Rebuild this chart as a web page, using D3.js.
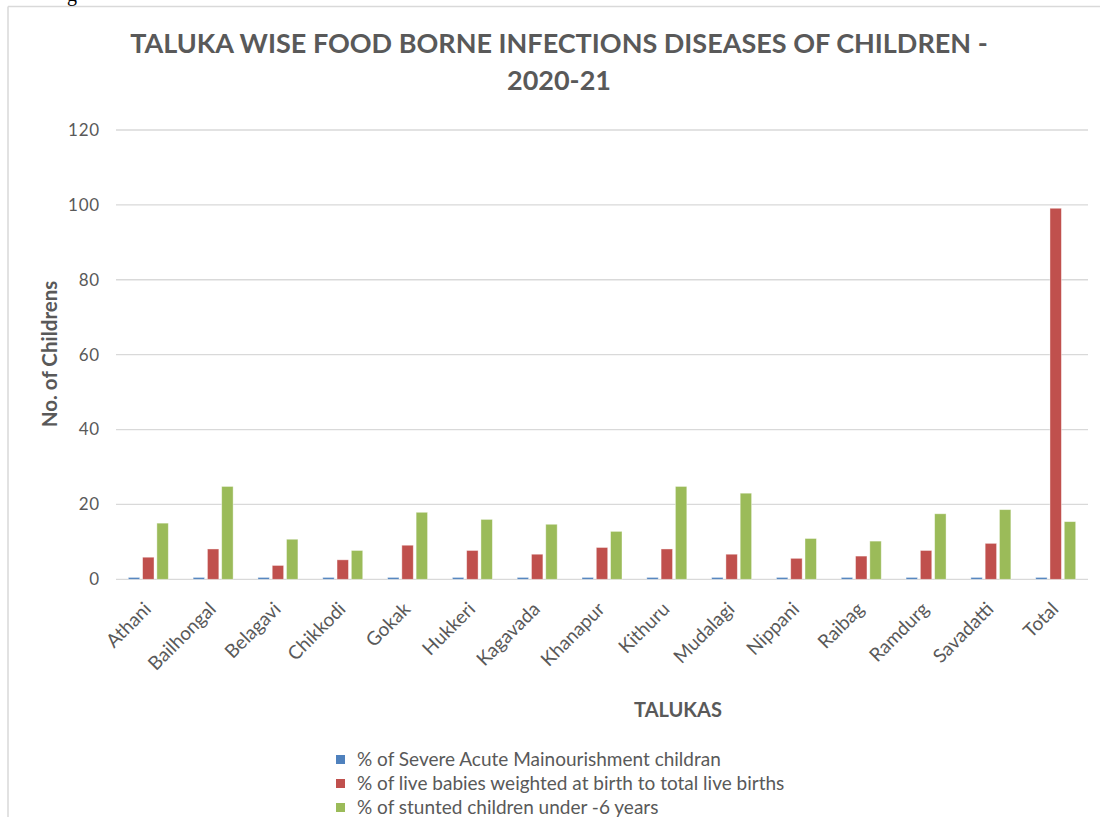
<!DOCTYPE html>
<html>
<head>
<meta charset="utf-8">
<script src="https://cdn.jsdelivr.net/npm/d3@7"></script>
<style>
  html, body { margin: 0; padding: 0; background: #fff; }
  svg { display: block; }
  text { font-family: Lato, "Open Sans", sans-serif; }
</style>
</head>
<body>
<svg id="chart" width="1100" height="817"></svg>
<script>
const categories = ["Athani","Bailhongal","Belagavi","Chikkodi","Gokak","Hukkeri","Kagavada","Khanapur","Kithuru","Mudalagi","Nippani","Raibag","Ramdurg","Savadatti","Total"];
const seriesNames = [
  "% of Severe Acute Mainourishment childran",
  "% of live babies weighted at birth to total live births",
  "% of stunted children under -6 years"
];
const severeAcute = [0.5,0.5,0.5,0.5,0.5,0.5,0.5,0.5,0.5,0.5,0.5,0.5,0.5,0.5,0.5];
const liveBabies  = [5.9,8.1,3.7,5.2,9.1,7.7,6.7,8.5,8.1,6.7,5.6,6.2,7.7,9.6,99.1];
const stunted     = [15.0,24.8,10.7,7.7,17.9,16.0,14.7,12.8,24.8,23.0,10.9,10.2,17.5,18.6,15.4];
const yTicks = [0,20,40,60,80,100,120];
const colors = ["#4f81bd","#c0504d","#9bbb59"];

const seriesValues = [severeAcute, liveBabies, stunted];
const svg = d3.select("#chart");
const W = 1100, H = 817;

// frame
svg.append("line").attr("x1",8).attr("x2",8).attr("y1",6.5).attr("y2",H).attr("stroke","#d9d9d9").attr("stroke-width",1.5);
svg.append("line").attr("x1",8).attr("x2",W).attr("y1",6.5).attr("y2",6.5).attr("stroke","#d9d9d9").attr("stroke-width",1.5);
// fragment of preceding document text, cut by the top edge as in the reference
svg.append("text").attr("x",67).attr("y",1).attr("font-size",20).attr("fill","#000").style("font-family","'Liberation Serif', serif").text("g");

const pLeft = 116, pRight = 1088, pTop = 130, pBottom = 579.3;
const x = d3.scaleBand().domain(categories).range([pLeft, pRight]).paddingInner(0.383).paddingOuter(0.19);
const xi = d3.scaleBand().domain(d3.range(3)).range([0, x.bandwidth()]).paddingInner(0.2);
const y = d3.scaleLinear().domain([0,120]).range([pBottom, pTop]);

// gridlines
svg.append("g").selectAll("line").data(yTicks).join("line")
  .attr("x1", pLeft).attr("x2", pRight)
  .attr("y1", d => y(d)).attr("y2", d => y(d))
  .attr("stroke", "#d9d9d9").attr("stroke-width", 1.3);

// y axis labels
const yAxis = d3.axisLeft(y).tickValues(yTicks).tickSize(0).tickPadding(0);
const yg = svg.append("g").attr("transform", `translate(${pLeft-16},0)`).call(yAxis);
yg.select(".domain").remove();
yg.selectAll("text").attr("font-size", 17).attr("letter-spacing", 0.8).attr("fill", "#595959").style("font-family","Lato, sans-serif");

// bars
const groups = svg.append("g").selectAll("g").data(categories).join("g")
  .attr("transform", d => `translate(${x(d)},0)`);
groups.selectAll("rect").data((d,i) => seriesValues.map((s,k) => ({k, v: s[i]}))).join("rect")
  .attr("x", d => xi(d.k))
  .attr("width", xi.bandwidth())
  .attr("y", d => y(d.v))
  .attr("height", d => y(0) - y(d.v))
  .attr("fill", d => colors[d.k])
  .attr("stroke", "#ffffff").attr("stroke-opacity", 0.5).attr("stroke-width", 0.8);

// x labels
const xAxis = d3.axisBottom(x).tickSize(0).tickPadding(0);
const xg = svg.append("g").attr("transform", `translate(0,${pBottom})`).call(xAxis);
xg.select(".domain").remove();
xg.selectAll("text")
  .attr("font-size", 19).attr("fill", "#595959").style("font-family","Lato, sans-serif")
  .attr("text-anchor", "end")
  .attr("dy", null).attr("y", 0)
  .attr("transform", "translate(4,31) rotate(-45)");

// title
const title = svg.append("text").attr("x", 559).attr("text-anchor","middle")
  .attr("font-weight","bold").attr("font-size",27).attr("fill","#595959");
title.append("tspan").attr("x",559).attr("y",53).text("TALUKA WISE FOOD BORNE INFECTIONS DISEASES OF CHILDREN -");
title.append("tspan").attr("x",559).attr("y",90).text("2020-21");

// y title
svg.append("text").attr("transform","translate(57,354) rotate(-90)").attr("text-anchor","middle")
  .attr("font-weight","bold").attr("font-size",20.5).attr("fill","#595959").text("No. of Childrens");

// x title
svg.append("text").attr("x",678).attr("y",717).attr("text-anchor","middle")
  .attr("font-weight","bold").attr("font-size",20).attr("fill","#595959").text("TALUKAS");

// legend
const lg = svg.append("g").selectAll("g").data(seriesNames).join("g")
  .attr("transform", (d,i) => `translate(336,${755 + i*24})`);
lg.append("rect").attr("x",0).attr("y",0).attr("width",9).attr("height",9).attr("fill",(d,i)=>colors[i]);
lg.append("text").attr("x",21).attr("y",11).attr("font-size",19).attr("fill","#595959").text(d => d);
</script>
</body>
</html>
